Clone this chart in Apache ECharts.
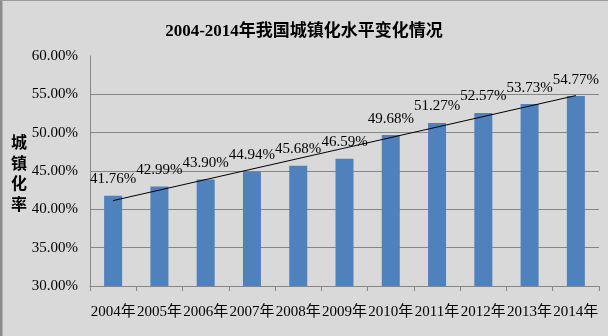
<!DOCTYPE html>
<html>
<head>
<meta charset="utf-8">
<script src="https://cdn.jsdelivr.net/npm/echarts@6/dist/echarts.min.js"></script>
<style>
html,body{margin:0;padding:0;background:#d9d9d9;}
#c{width:608px;height:336px;}
</style>
</head>
<body>
<div id="c"></div>
<script>
var titleText = '2004-2014年我国城镇化水平变化情况';
var yAxisName = '城镇化率';
var categories = ['2004年','2005年','2006年','2007年','2008年','2009年','2010年','2011年','2012年','2013年','2014年'];
var values = [41.76, 42.99, 43.90, 44.94, 45.68, 46.59, 49.68, 51.27, 52.57, 53.73, 54.77];
var labelTexts = ['41.76%','42.99%','43.90%','44.94%','45.68%','46.59%','49.68%','51.27%','52.57%','53.73%','54.77%'];
var trendStart = ['2004年', 41.14];
var trendEnd = ['2014年', 54.84];
var yMin = 30, yMax = 60, yStep = 5;

var serif = '"Liberation Serif","Times New Roman","Noto Sans CJK SC",serif';
var chart = echarts.init(document.getElementById('c'), null, {renderer:'canvas'});
chart.setOption({
  backgroundColor: '#d9d9d9',
  animation: false,
  title: {
    text: titleText, left: 'center', top: 18,
    textStyle: {fontFamily: serif, fontSize: 17, fontWeight: 'bold', color: '#000'}
  },
  graphic: [
    {type:'line', shape:{x1:1, y1:0, x2:1, y2:336}, style:{stroke:'#8c8c8c', lineWidth:3}},
    {type:'line', shape:{x1:0, y1:0.5, x2:608, y2:0.5}, style:{stroke:'#9a9a9a', lineWidth:1}},
    {type:'text', left: 11, top: 134, style:{text: yAxisName.split('').join('\n'), fontFamily: serif, fontSize: 16, fontWeight:'bold', lineHeight: 20.5, fill:'#000'}}
  ],
  grid: {left: 90, right: 9, top: 56, bottom: 50},
  xAxis: {
    type: 'category', data: categories,
    axisLine: {lineStyle: {color: '#868686'}},
    axisTick: {show: true, length: 5, lineStyle: {color:'#868686'}},
    axisLabel: {color: '#000', fontFamily: serif, fontSize: 15, margin: 19, interval: 0}
  },
  yAxis: {
    type: 'value', min: yMin, max: yMax, interval: yStep,
    axisLine: {show: true, lineStyle: {color: '#868686'}},
    axisTick: {show: false},
    axisLabel: {color: '#000', fontFamily: serif, fontSize: 15, margin: 12,
      formatter: function(v){ return v.toFixed(2) + '%'; }},
    splitLine: {show: true, lineStyle: {color: ['#868686','#868686','#868686','#868686','#868686','#868686','rgba(0,0,0,0)'], width: 1}}
  },
  series: [{
    type: 'bar', data: values, barWidth: 18,
    itemStyle: {color: '#4f81bd'},
    label: {show: true, position: 'top', distance: 9, color: '#000', fontFamily: serif, fontSize: 15,
      formatter: function(p){ return labelTexts[p.dataIndex]; }},
    markLine: {
      silent: true, symbol: ['none','none'], label: {show: false},
      lineStyle: {color: '#000', width: 1, type: 'solid'},
      data: [[{coord: trendStart}, {coord: trendEnd}]]
    }
  }]
});
</script>
</body>
</html>
